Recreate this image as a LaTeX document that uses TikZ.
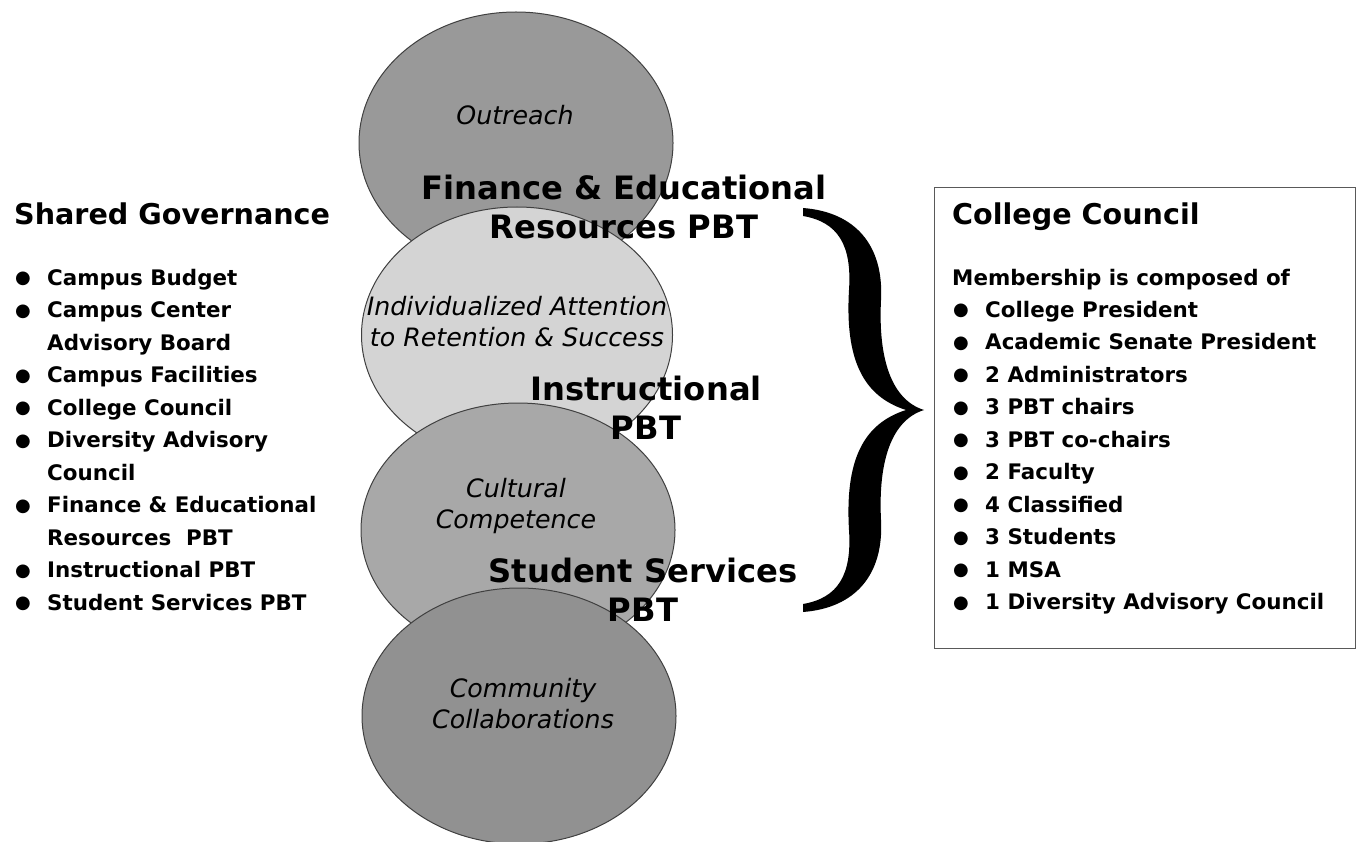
\documentclass[tikz,border=0pt]{standalone}
\usepackage{fontspec}
\setmainfont{DejaVu Sans}
\usetikzlibrary{shapes.geometric}
\definecolor{gOut}{gray}{0.60}
\definecolor{gInd}{gray}{0.83}
\definecolor{gCul}{gray}{0.66}
\definecolor{gCom}{gray}{0.57}
\newcommand\bul{\makebox[32pt][l]{\hspace{0pt}\raisebox{1.5pt}{\fontsize{18}{18}\selectfont ●}}}
\newcommand\twol[2]{\begin{tabular}[t]{@{}c@{}}#1\\#2\end{tabular}}
\begin{document}
\begin{tikzpicture}[x=1pt,y=-1pt,
 blob/.style={ellipse, draw=black!75, line width=1pt, inner sep=0pt, minimum width=314pt, minimum height=258pt},
 itl/.style={font=\fontsize{25.3}{31}\selectfont\itshape, inner sep=0pt, anchor=base},
 pbt/.style={font=\fontsize{32.2}{39}\selectfont\bfseries, inner sep=0pt, anchor=base},
 ttl/.style={font=\fontsize{28.6}{34}\selectfont\bfseries, inner sep=0pt, anchor=base west},
 lst/.style={font=\fontsize{21.4}{32.5}\selectfont\bfseries, inner sep=0pt, anchor=base west},
]
\useasboundingbox (0,0) rectangle (1356,842);
% ellipses
\node[blob, fill=gOut, minimum height=262pt] (e1) at (516,143) {};
\node[blob, fill=gInd, minimum width=311pt, minimum height=256pt] (e2) at (517,335) {};
\node[blob, fill=gCul, minimum height=254pt] (e3) at (518,530) {};
\node[blob, fill=gCom, minimum height=256pt] (e4) at (519,716) {};
% italic labels
\node[itl] (t1) at (515,125) {Outreach};
\node[itl] (t2) at (517,315) {\twol{Individualized Attention}{to Retention \& Success}};
\node[itl] (t3) at (516,497) {\twol{Cultural}{Competence}};
\node[itl] (t4) at (523,697) {\twol{Community}{Collaborations}};
% PBT labels
\node[pbt] (p1) at (624,200) {\twol{Finance \& Educational}{Resources PBT}};
\node[pbt] (p2) at (646,400) {\twol{Instructional}{PBT}};
\node[pbt] (p3) at (643,582) {\twol{Student Services}{PBT}};
% brace
\fill[black] (803,208) .. controls (855,212) and (884,245) .. (881,300)
  .. controls (878,360) and (892,400) .. (924,410)
  .. controls (892,420) and (878,460) .. (881,520)
  .. controls (884,575) and (855,608) .. (803,612)
  -- (803,604)
  .. controls (838,598) and (852,575) .. (849,530)
  .. controls (845,462) and (862,424) .. (906,410)
  .. controls (862,396) and (845,358) .. (849,290)
  .. controls (852,245) and (838,222) .. (803,216) -- cycle;
% left column
\node[ttl] (sg) at (14,225) {Shared Governance};
\node[lst] (sgl) at (15,285) {\begin{tabular}[t]{@{}l@{}l@{}}
\bul & Campus Budget\\
\bul & Campus Center\\
 & Advisory Board\\
\bul & Campus Facilities\\
\bul & College Council\\
\bul & Diversity Advisory\\
 & Council\\
\bul & Finance \& Educational\\
 & Resources~~PBT\\
\bul & Instructional PBT\\
\bul & Student Services PBT
\end{tabular}};
% right box
\node[draw=black!65, line width=1pt, anchor=north west, minimum width=421pt, minimum height=461pt, inner sep=0pt] (ccbox) at (934,187) {};
\node[ttl] (cc) at (952,225) {College Council};
\node[lst] (mem) at (952,285) {Membership is composed of};
\node[lst] (ccl) at (953,317) {\begin{tabular}[t]{@{}l@{}l@{}}
\bul & College President\\
\bul & Academic Senate President\\
\bul & 2 Administrators\\
\bul & 3 PBT chairs\\
\bul & 3 PBT co-chairs\\
\bul & 2 Faculty\\
\bul & 4 Classified\\
\bul & 3 Students\\
\bul & 1 MSA\\
\bul & 1 Diversity Advisory Council
\end{tabular}};
\end{tikzpicture}
\end{document}
